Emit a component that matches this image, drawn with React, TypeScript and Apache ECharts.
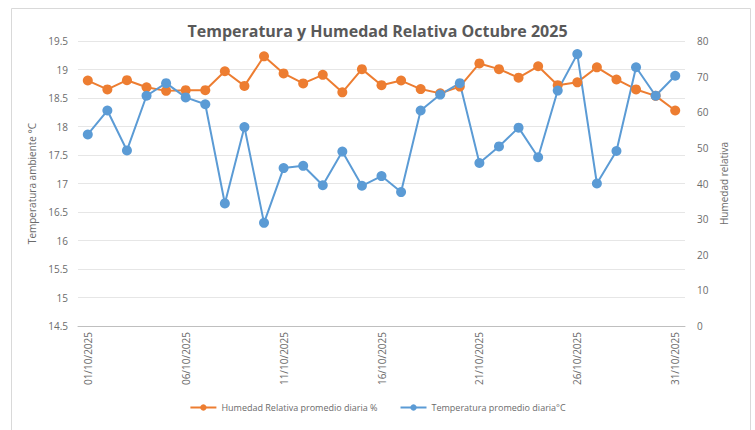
import React, { useEffect, useRef } from "react";
import * as echarts from "echarts";

const days: string[] = Array.from({ length: 31 }, (_, i) => `${String(i + 1).padStart(2, "0")}/10/2025`);

const humedad: number[] = [
  68.9, 66.4, 69.0, 67.0, 66.0, 66.2, 66.2, 71.5, 67.4, 75.7,
  70.9, 68.1, 70.5, 65.6, 72.1, 67.6, 68.9, 66.5, 65.3, 67.2,
  73.7, 72.1, 69.7, 72.9, 67.6, 68.4, 72.6, 69.2, 66.4, 64.6, 60.5,
];

const temperatura: number[] = [
  17.86, 18.28, 17.58, 18.54, 18.76, 18.51, 18.39, 16.65, 17.99, 16.31,
  17.27, 17.31, 16.97, 17.56, 16.96, 17.13, 16.85, 18.28, 18.56, 18.76,
  17.36, 17.65, 17.98, 17.46, 18.63, 19.27, 17.0, 17.57, 19.04, 18.54, 18.89,
];

const FONT = "'Open Sans', 'Noto Sans', sans-serif";
const GREY = "#595959";
const LABEL = "#6b6b6b";

export default function App() {
  const ref = useRef<HTMLDivElement>(null);
  useEffect(() => {
    if (!ref.current) return;
    const chart = echarts.init(ref.current, undefined, { renderer: "svg" });
    chart.setOption({
      animation: false,
      backgroundColor: "#ffffff",
      textStyle: { fontFamily: FONT },
      title: {
        text: "Temperatura y Humedad Relativa Octubre 2025",
        left: "center",
        top: 18,
        textStyle: { fontFamily: FONT, fontSize: 16, fontWeight: "bold", color: GREY },
      },
      graphic: [
        {
          type: "rect",
          shape: { x: 11.5, y: 8.5, width: 739, height: 440 },
          style: { fill: "none", stroke: "#d9d9d9", lineWidth: 1 },
          silent: true,
        },
      ],
      legend: {
        bottom: 13,
        left: "center",
        itemWidth: 26,
        itemHeight: 8,
        itemGap: 22,
        textStyle: { fontFamily: FONT, fontSize: 9, color: LABEL },
        data: ["Humedad Relativa promedio diaria %", "Temperatura promedio diaria°C"],
      },
      grid: { left: 78, right: 70, top: 41, bottom: 104, containLabel: false },
      xAxis: {
        type: "category",
        data: days,
        boundaryGap: true,
        axisLine: { lineStyle: { color: "#bfbfbf" } },
        axisTick: { show: false },
        axisLabel: {
          interval: 4,
          rotate: 90,
          color: LABEL,
          fontSize: 10,
          fontFamily: FONT,
          margin: 6,
        },
      },
      yAxis: [
        {
          type: "value",
          min: 14.5,
          max: 19.5,
          interval: 0.5,
          name: "Temperatura ambiente °C",
          nameLocation: "middle",
          nameGap: 31,
          nameTextStyle: { fontFamily: FONT, fontSize: 10, color: LABEL },
          axisLine: { show: false },
          axisTick: { show: false },
          axisLabel: { color: LABEL, fontSize: 10, fontFamily: FONT, margin: 10 },
          splitLine: { lineStyle: { color: "#e6e6e6" } },
        },
        {
          type: "value",
          min: 0,
          max: 80,
          interval: 10,
          name: "Humedad relativa",
          nameLocation: "middle",
          nameGap: 21,
          nameTextStyle: { fontFamily: FONT, fontSize: 10, color: LABEL },
          axisLine: { show: false },
          axisTick: { show: false },
          axisLabel: { color: LABEL, fontSize: 10, fontFamily: FONT, margin: 12 },
          splitLine: { show: false },
        },
      ],
      series: [
        {
          name: "Humedad Relativa promedio diaria %",
          type: "line",
          yAxisIndex: 1,
          data: humedad,
          symbol: "circle",
          symbolSize: 10,
          lineStyle: { color: "#ED7D31", width: 2 },
          itemStyle: { color: "#ED7D31" },
        },
        {
          name: "Temperatura promedio diaria°C",
          type: "line",
          yAxisIndex: 0,
          data: temperatura,
          symbol: "circle",
          symbolSize: 10,
          lineStyle: { color: "#5B9BD5", width: 2 },
          itemStyle: { color: "#5B9BD5" },
        },
      ],
    });
    return () => chart.dispose();
  }, []);
  return (
    <div
      ref={ref}
      style={{ position: "absolute", left: 0, top: 0, width: 755, height: 430 }}
    />
  );
}
